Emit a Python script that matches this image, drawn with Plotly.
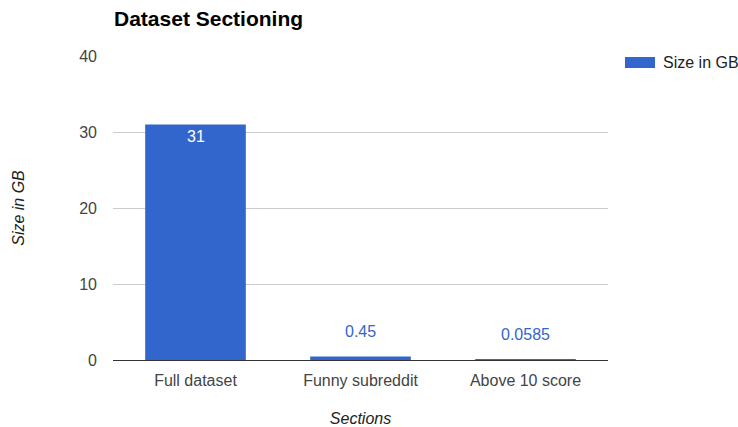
import plotly.graph_objects as go

categories = ["Full dataset", "Funny subreddit", "Above 10 score"]
sizes_gb = [31, 0.45, 0.0585]
value_labels = ["31", "0.45", "0.0585"]
series_name = "Size in GB"
y_ticks = [0, 10, 20, 30, 40]

BLUE = "#3366cc"
FONT = "Liberation Sans, Arial, sans-serif"
FS = 16

fig = go.Figure()
fig.add_trace(go.Bar(
    x=categories, y=sizes_gb, name=series_name,
    marker=dict(color=BLUE, line=dict(width=0)),
    showlegend=False, hoverinfo="x+y",
))

# value labels: inside (white) for tall bar, above (blue) for small bars
for c, v, lab in zip(categories, sizes_gb, value_labels):
    inside = v > 5
    fig.add_annotation(
        x=c, y=v, xref="x", yref="y", text=lab, showarrow=False,
        yanchor="middle", yshift=-12 if inside else 25,
        font=dict(family=FONT, size=FS, color="white" if inside else BLUE),
    )

# legend (swatch + label)
fig.add_shape(type="rect", xref="paper", yref="paper",
              x0=(625 - 113) / 495, x1=(655 - 113) / 495,
              y0=(360 - 68) / 304, y1=(360 - 57) / 304,
              fillcolor=BLUE, line=dict(width=0))
fig.add_annotation(xref="paper", yref="paper", x=(661 - 113) / 495, y=(360 - 62.5) / 304,
                   xanchor="left", yanchor="middle", showarrow=False,
                   text=series_name, font=dict(family=FONT, size=FS, color="#222"))

fig.update_layout(
    width=738, height=427,
    margin=dict(l=113, r=130, t=56, b=67),
    paper_bgcolor="white", plot_bgcolor="white",
    font=dict(family=FONT, size=FS, color="#444"),
    bargap=0.39,
    title=dict(text="<b>Dataset Sectioning</b>", x=114 / 738, xanchor="left",
               y=1 - 19 / 427, yanchor="middle",
               font=dict(family=FONT, size=21, color="#000")),
    yaxis=dict(range=[0, 40], tickvals=y_ticks, showgrid=True, gridcolor="#cccccc",
               gridwidth=1, zeroline=False, showline=False, ticks="",
               ticklabelstandoff=15, automargin=False,
               title=dict(text="<i>Size in GB</i>", standoff=50,
                          font=dict(family=FONT, size=FS, color="#222"))),
    xaxis=dict(showline=True, linecolor="#333333", linewidth=1, ticks="",
               showgrid=False, ticklabelstandoff=6, automargin=False,
               title=dict(text="<i>Sections</i>", standoff=24,
                          font=dict(family=FONT, size=FS, color="#222"))),
)

fig.write_html("out.html")
